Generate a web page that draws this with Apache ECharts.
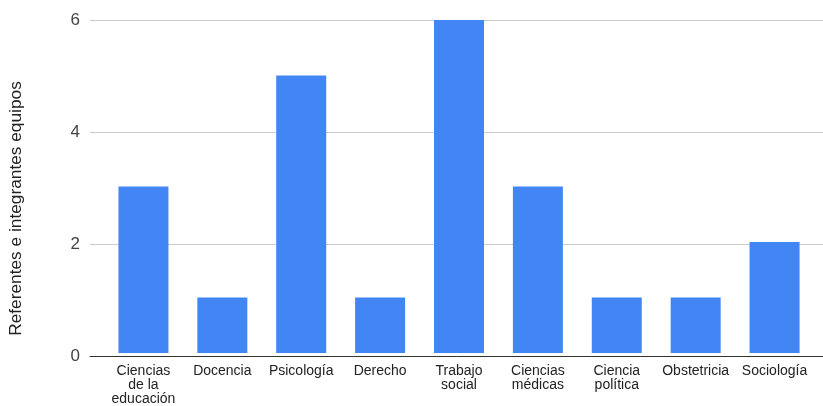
<!DOCTYPE html>
<html>
<head>
<meta charset="utf-8">
<script src="https://cdn.jsdelivr.net/npm/echarts@6/dist/echarts.min.js"></script>
<style>
    html, body { margin: 0; padding: 0; background: #fff; }
    #chart { width: 823px; height: 406px; }
</style>
</head>
<body>
<div id="chart"></div>
<script>
    // datos
    var categorias = ['Ciencias\nde la\neducación', 'Docencia', 'Psicología', 'Derecho', 'Trabajo\nsocial', 'Ciencias\nmédicas', 'Ciencia\npolítica', 'Obstetricia', 'Sociología'];
    var valores = [3, 1, 5, 1, 6, 3, 1, 1, 2];
    var nombreEje = 'Referentes e integrantes equipos';

    var fuente = '"Liberation Sans", Arial, sans-serif';
    var chart = echarts.init(document.getElementById('chart'));
    var option = {
        backgroundColor: '#fff',
        textStyle: { fontFamily: fuente },
        grid: [
            // grid 0: lineas de fondo y eje y
            { left: 90, right: 0, top: 20, bottom: 50 },
            // grid 1: barras
            { left: 104, right: 9, top: 20, bottom: 50 },
            // grid 2: solo para el titulo del eje y
            { left: 90, right: 0, top: 41, bottom: 30 }
        ],
        xAxis: [
            {
                gridIndex: 0,
                type: 'category',
                data: categorias,
                axisLine: { show: true, lineStyle: { color: '#333', width: 1 } },
                axisTick: { show: false },
                axisLabel: { show: false }
            },
            {
                gridIndex: 1,
                type: 'category',
                data: categorias,
                axisLine: { show: false },
                axisTick: { show: false },
                axisLabel: {
                    interval: 0,
                    color: '#222',
                    fontSize: 14,
                    lineHeight: 14,
                    margin: 11,
                    fontFamily: fuente
                }
            },
            {
                gridIndex: 2,
                type: 'category',
                data: categorias,
                show: false
            }
        ],
        yAxis: [
            {
                gridIndex: 0,
                type: 'value',
                min: 0,
                max: 6,
                interval: 2,
                axisLine: { show: false },
                axisTick: { show: false },
                axisLabel: { color: '#444', fontSize: 17, margin: 10, fontFamily: fuente },
                splitLine: { lineStyle: { color: '#ccc', width: 1 } }
            },
            {
                gridIndex: 1,
                type: 'value',
                min: 0,
                max: 6,
                interval: 2,
                show: false
            },
            {
                gridIndex: 2,
                type: 'value',
                min: 0,
                max: 6,
                name: nombreEje,
                nameLocation: 'middle',
                nameGap: 74,
                nameTextStyle: { color: '#222', fontSize: 17.3, fontFamily: fuente },
                axisLine: { show: false },
                axisTick: { show: false },
                axisLabel: { show: false },
                splitLine: { show: false }
            }
        ],
        series: [
            {
                type: 'bar',
                xAxisIndex: 1,
                yAxisIndex: 1,
                data: valores,
                barWidth: 50,
                itemStyle: { color: '#4285F4' },
                z: 3
            }
        ]
    };
    chart.setOption(option);
</script>
</body>
</html>
